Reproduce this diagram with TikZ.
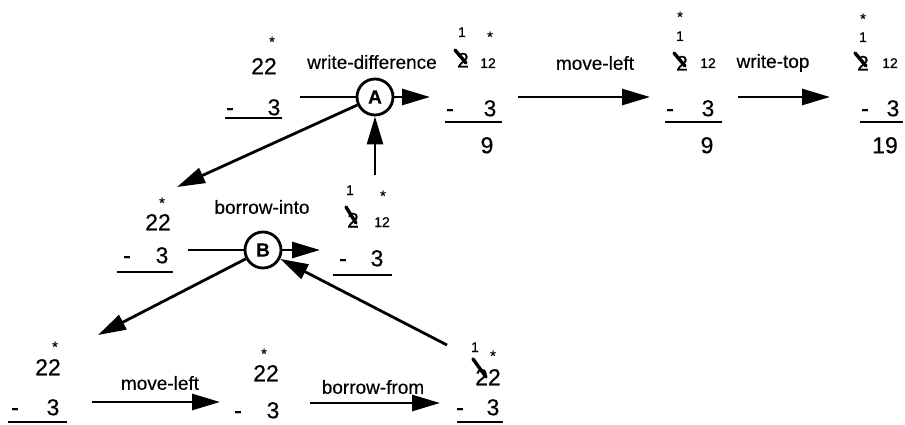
\documentclass[tikz,border=0pt]{standalone}
\usepackage{fontspec}
\setmainfont{Liberation Sans}[FakeBold=0.3]
\usetikzlibrary{arrows.meta}
\tikzset{
  big/.style={font=\fontsize{23}{23}\selectfont, inner sep=0pt, text height=16.5pt, text depth=0pt},
  crossd/.style={font=\fontsize{21}{21}\selectfont, inner sep=0pt, text height=15pt, text depth=0pt},
  small/.style={font=\fontsize{14}{14}\selectfont, inner sep=0pt, text height=10pt, text depth=0pt},
  star/.style={font=\fontsize{15}{15}\selectfont, inner sep=0pt, anchor=base},
  lab/.style={font=\fontsize{19}{19}\selectfont, inner sep=0pt},
  st/.style={circle, draw, line width=2.8pt, minimum size=36pt, inner sep=0pt, font=\fontsize{19}{19}\selectfont\bfseries},
  conn/.style={line width=2.8pt},
  arr/.style={conn, -{Triangle[length=28pt,width=16pt]}},
  uline/.style={line width=2.2pt},
  slash/.style={line width=3.4pt, line cap=round}
}
\begin{document}
\begin{tikzpicture}[x=1pt,y=-1pt]
\useasboundingbox (0,0) rectangle (905,425);
% ---------- P1 ----------
\node[star] (p1s) at (272,47) {*};
\node[big] (p1a) at (264,66) {22};
\node[big] (p1m) at (230,107) {-};
\node[big] (p1b) at (274,107) {3};
\draw[uline] (225,118) -- (282,118);
% ---------- A ----------
\node[lab] (l1) at (372,62) {write-difference};
\node[st] (A) at (375,97) {A};
\coordinate (ain) at (300,97);
\coordinate (aout) at (430,97);
\coordinate (aup) at (375,175);
\coordinate (adl) at (177,187);
\draw[conn] (ain) -- (A);
\draw[arr] (A) -- (aout);
\draw[arr] (aup) -- (A);
\draw[arr] (A) -- (adl);
% ---------- P2 ----------
\node[small] (p2one) at (462,32) {1};
\node[star] (p2s) at (490,42) {*};
\node[crossd] (p2x) at (463,60) {2};
\draw[slash] (455,50) -- (466,63);
\node[small] (p2t) at (488,63) {12};
\node[big] (p2m) at (450,108) {-};
\node[big] (p2b) at (490,108) {3};
\draw[uline] (445,122) -- (502,122);
\node[big] (p2r) at (487,145) {9};
% ---------- move-left (top) ----------
\node[lab] (l2) at (595,63) {move-left};
\coordinate (m1a) at (518,97);
\coordinate (m1b) at (650,97);
\draw[arr] (m1a) -- (m1b);
% ---------- P3 ----------
\node[star] (p3s) at (680,22) {*};
\node[small] (p3one) at (680,36) {1};
\node[crossd] (p3x) at (682,63) {2};
\draw[slash] (674,53) -- (685,66);
\node[small] (p3t) at (708,63) {12};
\node[big] (p3m) at (670,108) {-};
\node[big] (p3b) at (708,108) {3};
\draw[uline] (665,122) -- (722,122);
\node[big] (p3r) at (707,145) {9};
% ---------- write-top ----------
\node[lab] (l3) at (773,63) {write-top};
\coordinate (w1a) at (738,97);
\coordinate (w1b) at (830,97);
\draw[arr] (w1a) -- (w1b);
% ---------- P4 ----------
\node[star] (p4s) at (863,24) {*};
\node[small] (p4one) at (863,37) {1};
\node[crossd] (p4x) at (863,63) {2};
\draw[slash] (855,53) -- (866,66);
\node[small] (p4t) at (890,63) {12};
\node[big] (p4m) at (865,108) {-};
\node[big] (p4b) at (893,108) {3};
\draw[uline] (860,122) -- (903,122);
\node[big] (p4r) at (885,145) {19};
% ---------- P5 ----------
\node[star] (p5s) at (162,208) {*};
\node[big] (p5a) at (158,222) {22};
\node[big] (p5m) at (127,255) {-};
\node[big] (p5b) at (162,255) {3};
\draw[uline] (117,272) -- (173,272);
% ---------- B ----------
\node[lab] (l4) at (262,207) {borrow-into};
\node[st] (B) at (263,250) {B};
\coordinate (bin) at (188,250);
\coordinate (bout) at (320,250);
\coordinate (bdl) at (98,335);
\coordinate (bur) at (447,345);
\draw[conn] (bin) -- (B);
\draw[arr] (B) -- (bout);
\draw[arr] (B) -- (bdl);
\draw[arr] (bur) -- (B);
% ---------- P6 ----------
\node[small] (p6one) at (350,190) {1};
\node[star] (p6s) at (383,201) {*};
\node[crossd] (p6x) at (353,220) {2};
\draw[slash] (346,207) -- (356,223);
\node[small] (p6t) at (382,222) {12};
\node[big] (p6m) at (343,258) {-};
\node[big] (p6b) at (377,258) {3};
\draw[uline] (333,275) -- (392,275);
% ---------- P7 ----------
\node[star] (p7s) at (55,352) {*};
\node[big] (p7a) at (48,367) {22};
\node[big] (p7m) at (15,407) {-};
\node[big] (p7b) at (53,407) {3};
\draw[uline] (8,422) -- (67,422);
% ---------- move-left (bottom) ----------
\node[lab] (l5) at (160,383) {move-left};
\coordinate (m2a) at (92,402);
\coordinate (m2b) at (220,402);
\draw[arr] (m2a) -- (m2b);
% ---------- P8 ----------
\node[star] (p8s) at (264,359) {*};
\node[big] (p8a) at (266,373) {22};
\node[big] (p8m) at (238,410) {-};
\node[big] (p8b) at (273,410) {3};
% ---------- borrow-from ----------
\node[lab] (l6) at (373,387) {borrow-from};
\coordinate (bfa) at (310,403);
\coordinate (bfb) at (440,403);
\draw[arr] (bfa) -- (bfb);
% ---------- P9 ----------
\node[small] (p9one) at (475,347) {1};
\node[star] (p9s) at (493,361) {*};
\node[big] (p9a) at (488,377) {22};
\draw[slash] (473,359) -- (486,377);
\node[big] (p9m) at (460,407) {-};
\node[big] (p9b) at (493,407) {3};
\draw[uline] (457,422) -- (503,422);
\end{tikzpicture}
\end{document}
